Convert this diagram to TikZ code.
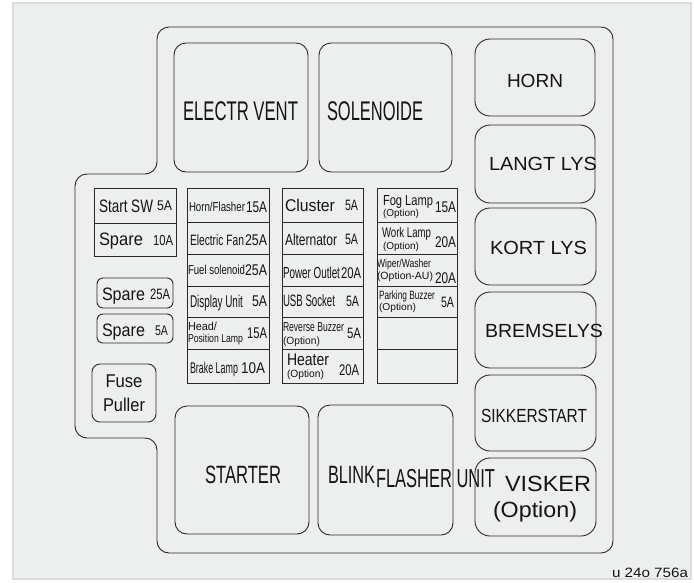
\documentclass[tikz,border=0pt]{standalone}
\usepackage{fontspec}
\setmainfont{Liberation Sans}
\usepackage{graphicx}
\definecolor{ln}{RGB}{45,40,40}
\definecolor{bg}{RGB}{237,238,238}
\definecolor{bd}{RGB}{218,219,219}
\definecolor{tx}{RGB}{20,20,20}
\newcommand\W[3]{\resizebox{#1pt}{\height}{\fontsize{#2}{#2}\selectfont #3}}
\begin{document}
\begin{tikzpicture}[x=1pt,y=-1pt,
  lb/.style={inner sep=0pt,outer sep=0pt,anchor=base west,text=tx},
  lc/.style={inner sep=0pt,outer sep=0pt,anchor=base,text=tx},
  edge/.style={draw=ln,line width=0.9pt},
  rbig/.style={edge,rounded corners=12pt},
  rsmall/.style={edge,rounded corners=6pt}]
\useasboundingbox (0,0) rectangle (694,582);
\fill[white] (0,0) rectangle (694,582);
\draw[draw=bd,fill=bg,line width=2pt] (13,3) rectangle (691,579);
% outer outline
\draw[edge,rounded corners=12pt] (385,27) -- (613,27) -- (613,553) -- (157,553) -- (157,438) -- (75,438) -- (75,174) -- (157,174) -- (157,27) -- cycle;
% big relays
\draw[rbig] (174,43) rectangle (308,172);
\draw[rbig] (319,43) rectangle (452,172);
\draw[rbig] (175,406) rectangle (309,534);
\draw[rbig] (318,405) rectangle (453,535);
% right relays
\draw[edge,rounded corners=15pt] (475,39) rectangle (595,116);
\draw[edge,rounded corners=15pt] (475,125) rectangle (595,203);
\draw[edge,rounded corners=15pt] (475,208) rectangle (596,285);
\draw[edge,rounded corners=15pt] (475,292) rectangle (596,368);
\draw[edge,rounded corners=15pt] (475,375) rectangle (596,451);
\draw[edge,rounded corners=15pt] (475,458) rectangle (596,536);
% left fuses
\draw[edge] (94,188) rectangle (176,256);
\draw[edge] (94,223) -- (176,223);
\draw[rsmall] (97,278) rectangle (173,308);
\draw[rsmall] (97,314) rectangle (173,343);
\draw[edge,rounded corners=8pt] (92,364) rectangle (156,422);
% fuse columns
\foreach \xa/\xb in {187/269,282/363,377/457}{
  \draw[edge] (\xa,188) rectangle (\xb,383);
  \foreach \yy in {222,254,286,317,349}{\draw[edge] (\xa,\yy) -- (\xb,\yy);}
}
% left texts
\node[lb] (a1) at (99,212) {\W{54}{18}{Start SW}};
\node[lb] (a2) at (157,210) {\W{15}{14}{5A}};
\node[lb] (a3) at (99,245) {\W{44}{18}{Spare}};
\node[lb] (a4) at (153,245) {\W{20}{14.5}{10A}};
\node[lb] (a5) at (102,300) {\W{43}{18}{Spare}};
\node[lb] (a6) at (150,299) {\W{20}{15}{25A}};
\node[lb] (a7) at (102,336) {\W{43}{18}{Spare}};
\node[lb] (a8) at (155,335) {\W{13}{14}{5A}};
\node[lc] (a9) at (124,387) {\W{37}{18.5}{Fuse}};
\node[lc] (a10) at (124,411) {\W{42}{18.5}{Puller}};
% column 1
\node[lb] (b1) at (189,211) {\W{56}{13}{Horn/Flasher}};
\node[lb] (b2) at (246,212) {\W{21}{15.5}{15A}};
\node[lb] (b3) at (190,245) {\W{54}{15}{Electric Fan}};
\node[lb] (b4) at (245,245) {\W{22}{15.5}{25A}};
\node[lb] (b5) at (188,274) {\W{57}{13}{Fuel solenoid}};
\node[lb] (b6) at (245,275) {\W{22}{15.5}{25A}};
\node[lb] (b7) at (190,307) {\W{53}{17}{Display Unit}};
\node[lb] (b8) at (252,306) {\W{15}{15.5}{5A}};
\node[lb] (b9) at (188,330) {\W{29}{11.5}{Head/}};
\node[lb] (b10) at (188,342) {\W{55}{11.5}{Position Lamp}};
\node[lb] (b11) at (247,338) {\W{20}{15.5}{15A}};
\node[lb] (b12) at (190,373) {\W{48}{15.5}{Brake Lamp}};
\node[lb] (b13) at (241,373) {\W{24}{15.5}{10A}};
% column 2
\node[lb] (c1) at (285,211) {\W{50}{17}{Cluster}};
\node[lb] (c2) at (345,210) {\W{13}{15}{5A}};
\node[lb] (c3) at (285,245) {\W{52}{16}{Alternator}};
\node[lb] (c4) at (345,244) {\W{13}{15}{5A}};
\node[lb] (c5) at (283,278) {\W{57}{16}{Power Outlet}};
\node[lb] (c6) at (341,278) {\W{20}{15.5}{20A}};
\node[lb] (c7) at (283,306) {\W{52}{16.5}{USB Socket}};
\node[lb] (c8) at (346,306) {\W{13}{15}{5A}};
\node[lb] (c9) at (283,331.5) {\W{61}{13}{Reverse Buzzer}};
\node[lb] (c10) at (283,344) {\W{37}{10.5}{(Option)}};
\node[lb] (c11) at (347,338) {\W{14}{15}{5A}};
\node[lb] (c12) at (287,365.5) {\W{42}{17}{Heater}};
\node[lb] (c13) at (287,377) {\W{37}{10.5}{(Option)}};
\node[lb] (c14) at (339,375) {\W{20}{15.5}{20A}};
% column 3
\node[lb] (d1) at (383,205) {\W{50}{14.5}{Fog Lamp}};
\node[lb] (d2) at (383,216) {\W{36}{10}{(Option)}};
\node[lb] (d3) at (435,212) {\W{21}{15.5}{15A}};
\node[lb] (d4) at (382,237.5) {\W{49}{14}{Work Lamp}};
\node[lb] (d5) at (383,249.5) {\W{36}{10}{(Option)}};
\node[lb] (d6) at (435,247) {\W{21}{15.5}{20A}};
\node[lb] (d7) at (377,267.5) {\W{54}{11.5}{Wiper/Washer}};
\node[lb] (d8) at (377,279) {\W{56}{10.5}{(Option-AU)}};
\node[lb] (d9) at (435,283) {\W{21}{15.5}{20A}};
\node[lb] (d10) at (379,299) {\W{56}{12}{Parking Buzzer}};
\node[lb] (d11) at (379,310) {\W{37}{10}{(Option)}};
\node[lb] (d12) at (441,307) {\W{13}{15}{5A}};
% big texts
\node[lb] (e1) at (183,120) {\W{115}{27}{ELECTR VENT}};
\node[lb] (e2) at (327,120) {\W{96}{27}{SOLENOIDE}};
\node[lb] (e3) at (205,483) {\W{76}{25}{STARTER}};
\node[lb] (e4) at (328,483) {\W{47}{25}{BLINK}};
\node[lb] (e5) at (376,487) {\W{119}{26}{FLASHER UNIT}};
% right relay texts
\node[lb] (f1) at (507,87) {\W{56}{19}{HORN}};
\node[lb] (f2) at (489,170) {\W{108}{19}{LANGT LYS}};
\node[lb] (f3) at (490,254) {\W{97}{19}{KORT LYS}};
\node[lb] (f4) at (485,337) {\W{118}{19}{BREMSELYS}};
\node[lb] (f5) at (481,422) {\W{106}{19}{SIKKERSTART}};
\node[lb] (f6) at (505,491) {\W{86}{22}{VISKER}};
\node[lb] (f7) at (493,517) {\W{84}{22}{(Option)}};
% code
\node[lb] (g1) at (612,577) {\W{76}{13.5}{u 24o 756a}};
\end{tikzpicture}
\end{document}
